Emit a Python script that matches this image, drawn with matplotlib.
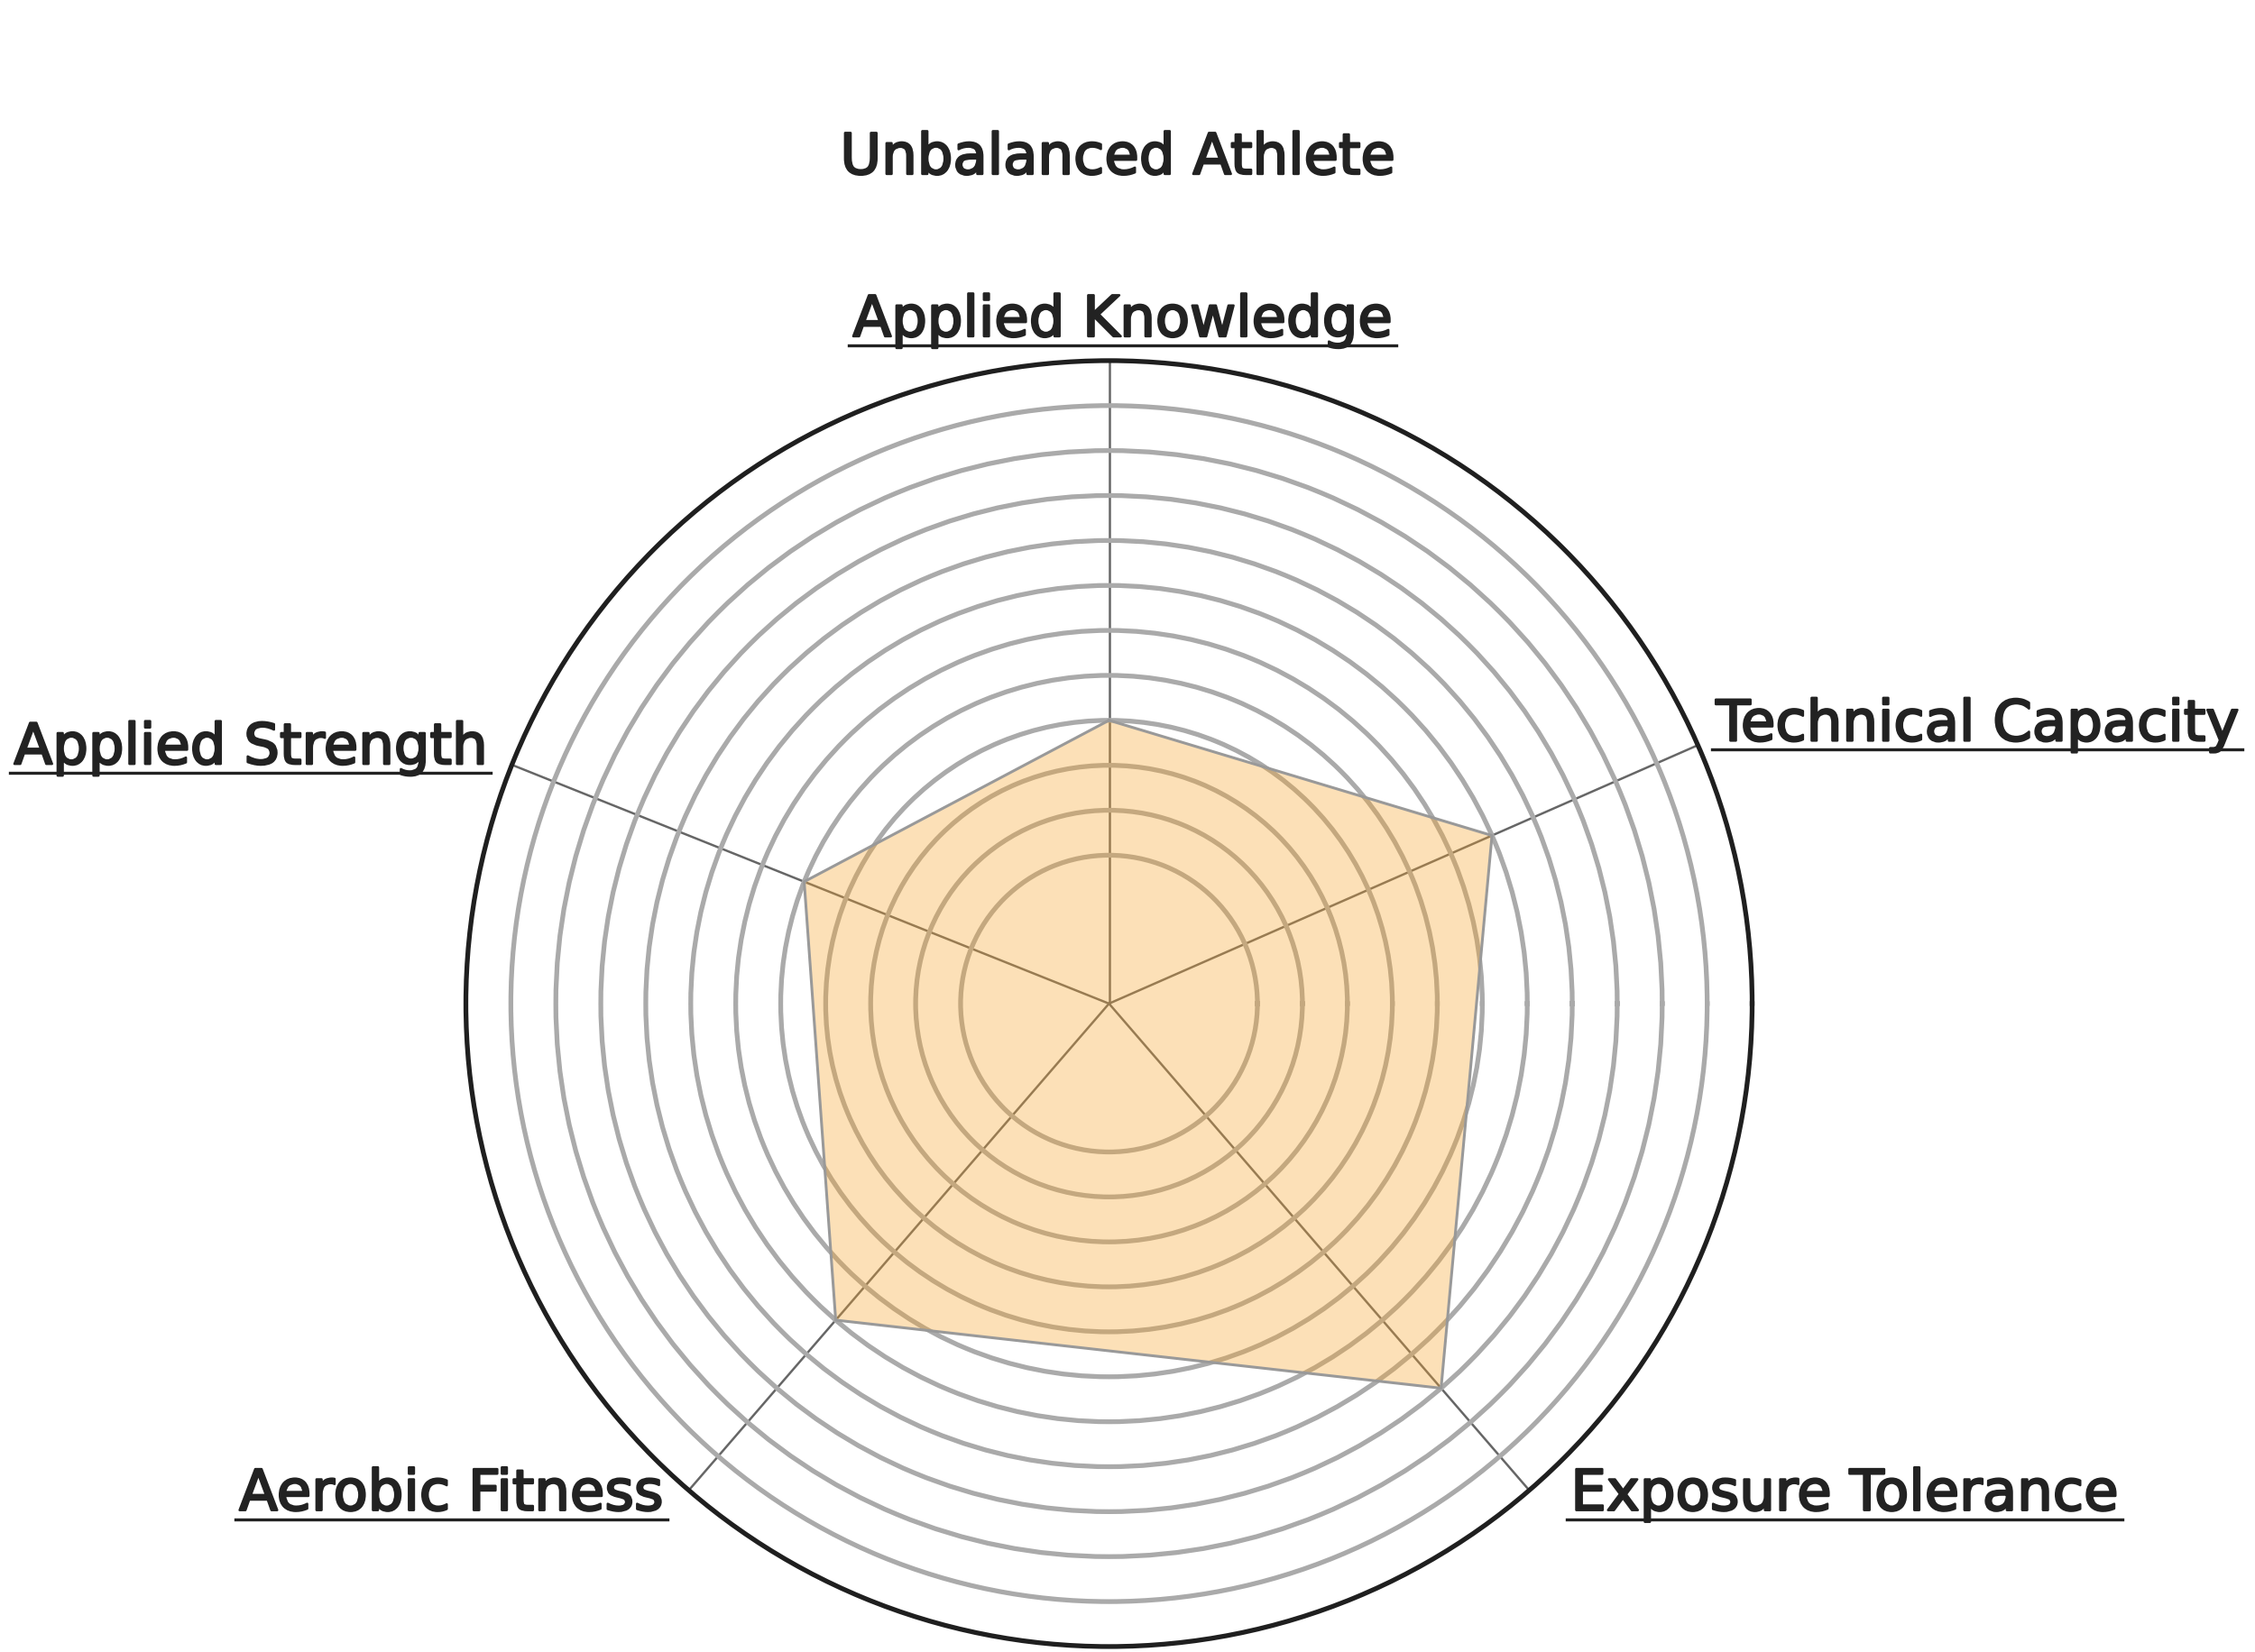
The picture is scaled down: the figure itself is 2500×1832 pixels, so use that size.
import numpy as np
import matplotlib
matplotlib.use("Agg")
import matplotlib.pyplot as plt
from matplotlib.lines import Line2D
import matplotlib.patheffects as pe

# Profile data
categories = ["Applied Knowledge", "Technical Capacity", "Exposure Tolerance",
              "Aerobic Fitness", "Applied Strength"]
axis_angles_deg = [90.0, 23.7, 310.8, 229.2, 158.2]
scores = [3, 6, 8, 6, 4]
ring_values = list(range(0, 11))
chart_title = "Unbalanced Athlete"

# Label layout: (horizontal alignment, x offset px, y offset px downward from spoke end)
label_layout = [("center", 15, -27), ("left", 20, -5), ("left", 46, 22),
                ("right", -28, 22), ("right", -27, -1)]

plt.rcParams['font.family'] = ['DejaVu Sans']
TEXT_COLOR = "#222222"
FONT_SIZE = 22.5
text_fx = [pe.withStroke(linewidth=0.9, foreground=TEXT_COLOR)]

fig = plt.figure(figsize=(12.5, 9.16), dpi=200)
ax = fig.add_axes([0.2066, 0.0033, 0.5704, 0.7784], projection="polar")

theta = np.deg2rad(axis_angles_deg)
r_min, r_max = -3.3, 11
ax.set_xticks(theta)
ax.set_xticklabels([])
ax.set_xlim(0, 2 * np.pi)
ax.set_ylim(r_min, r_max)
ax.set_yticks(ring_values)
ax.set_yticklabels([])
ax.tick_params(length=0)
ax.set_axisbelow(True)
ax.yaxis.grid(True, color="#aaaaaa", linewidth=1.9)
ax.xaxis.grid(True, color="#666666", linewidth=0.9)
ax.spines["polar"].set_color("#1f1f1f")
ax.spines["polar"].set_linewidth(1.9)

closed_theta = np.append(theta, theta[0])
closed_r = scores + [scores[0]]
ax.fill(closed_theta, closed_r, color="#f9a62c", alpha=0.34, linewidth=0, zorder=2)
ax.plot(closed_theta, closed_r, color="#999999", linewidth=1.1, zorder=3)

# Axis labels, placed just beyond the end of each spoke
to_fig = fig.transFigure.inverted()
label_texts = []
for name, ang, (ha, dx, dy) in zip(categories, theta, label_layout):
    px, py = ax.transData.transform((ang, r_max))
    fx, fy = to_fig.transform((px + dx, py - dy))
    t = fig.text(fx, fy, name, ha=ha, va="baseline", fontsize=FONT_SIZE,
                 color=TEXT_COLOR, path_effects=text_fx)
    label_texts.append((t, py - dy))

fig.text(0.4956, 0.8947, chart_title, ha="center", va="baseline",
         fontsize=FONT_SIZE, color=TEXT_COLOR, path_effects=text_fx)

# Underline each axis label
fig.canvas.draw()
renderer = fig.canvas.get_renderer()
for t, base_y in label_texts:
    bb = t.get_window_extent(renderer)
    y_line = base_y - 10
    (x0, y0), (x1, _) = to_fig.transform([(bb.x0 - 4, y_line), (bb.x1 + 4, y_line)])
    fig.add_artist(Line2D([x0, x1], [y0, y0], transform=fig.transFigure,
                          color=TEXT_COLOR, linewidth=1.2))

fig.savefig("out.png", dpi=200, facecolor="white")
